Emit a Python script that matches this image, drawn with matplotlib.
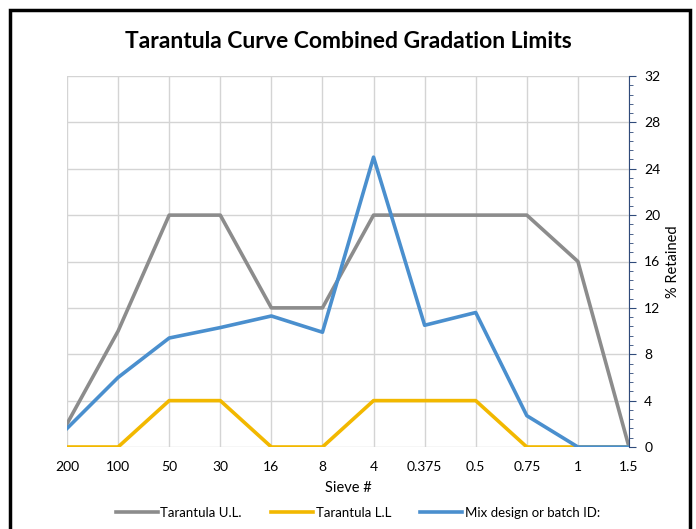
import matplotlib.pyplot as plt
import numpy as np
from matplotlib.patches import Rectangle
from matplotlib.ticker import MultipleLocator

plt.rcParams['font.family'] = ['Lato', 'DejaVu Sans']

# data
sieves = ["200", "100", "50", "30", "16", "8", "4", "0.375", "0.5", "0.75", "1", "1.5"]
upper_limit = [2, 10, 20, 20, 12, 12, 20, 20, 20, 20, 16, 0]
lower_limit = [0, 0, 4, 4, 0, 0, 4, 4, 4, 0, 0, 0]
mix_design = [1.6, 6, 9.4, 10.3, 11.3, 9.9, 25, 10.5, 11.6, 2.7, 0, 0]

x = np.arange(len(sieves))

fig = plt.figure(figsize=(6.96, 5.29), dpi=100)
ax = fig.add_axes([67 / 696, 1 - 447 / 529, (629 - 67) / 696, (447 - 76) / 529])

ax.plot(x, upper_limit, color="#8c8c8c", lw=2.6, label="Tarantula U.L.")
ax.plot(x, lower_limit, color="#f2b800", lw=2.6, label="Tarantula L.L")
ax.plot(x, mix_design, color="#4a8fce", lw=2.6, label="Mix design or batch ID:")

ax.set_xlim(0, len(sieves) - 1)
ax.set_ylim(0, 32)
ax.set_xticks(x)
ax.set_xticklabels(sieves, fontsize=10)
ax.yaxis.tick_right()
ax.yaxis.set_label_position("right")
ax.yaxis.set_major_locator(MultipleLocator(4))
ax.yaxis.set_minor_locator(MultipleLocator(0.8))
ax.tick_params(axis="y", which="major", length=5, color="#2f4a7a", labelsize=10, pad=6)
ax.tick_params(axis="y", which="minor", length=3, color="#2f4a7a")
ax.tick_params(axis="x", length=0, pad=10)
ax.set_ylabel("% Retained", fontsize=10.5, labelpad=4)
ax.set_xlabel("Sieve #", fontsize=10.5, labelpad=6)

ax.grid(True, color="#d4d4d4", lw=1)
ax.set_axisbelow(True)
for side in ["top", "left", "bottom"]:
    ax.spines[side].set_visible(False)
ax.spines["right"].set_color("#2f4a7a")

fig.text(0.5, 1 - 42 / 529, "Tarantula Curve Combined Gradation Limits",
         ha="center", va="center", fontsize=16.5, fontweight="bold")

ax.legend(loc="upper center", bbox_to_anchor=(0.5 + 10 / 562, -0.13), ncol=3, frameon=False,
          fontsize=9.5, handlelength=3.2, columnspacing=2.2, handletextpad=0.2)

# outer chart border
fig.patches.append(Rectangle((10 / 696, -0.05), 680 / 696, 1.05 - 10 / 529, transform=fig.transFigure,
                             fill=False, edgecolor="black", lw=2.5))

fig.savefig("out.png", dpi=100)
